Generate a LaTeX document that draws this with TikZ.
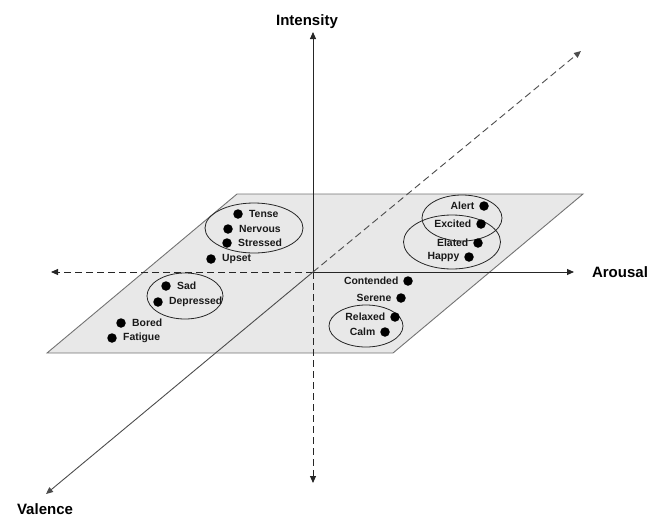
\documentclass[tikz,border=0pt]{standalone}
\usepackage{fontspec}
\setmainfont{Liberation Sans}
\usetikzlibrary{arrows.meta,shapes.geometric}
\begin{document}
\begin{tikzpicture}[x=1pt,y=-1pt,
 axis/.style={line width=0.9pt,draw=black!85,-{Triangle[length=7pt,width=6pt]}},
 dashaxis/.style={axis,dash pattern=on 7pt off 4pt},
 dot/.style={circle,fill=black,inner sep=0pt,minimum size=9.5pt},
 lbl/.style={font=\fontsize{10.4}{12}\selectfont\bfseries,inner sep=0pt,text=black!90},
 axlbl/.style={font=\fontsize{15}{18}\selectfont\bfseries,inner sep=0pt},
 grp/.style={ellipse,draw=black!85,line width=0.8pt,inner sep=0pt}]
\useasboundingbox (0,0) rectangle (651,517);
% plane
\draw[fill=black!9,draw=black!55,line width=0.9pt] (237,194) -- (583,194) -- (393,353) -- (47,353) -- cycle;
% axes
\coordinate (o) at (313,272);
\coordinate (up) at (313,32);
\coordinate (down) at (313,483);
\coordinate (right) at (574,272);
\coordinate (left) at (51,272);
\coordinate (front) at (46,494);
\coordinate (back) at (581,51);
\draw[axis] (o) -- (up);
\draw[dashaxis] (o) -- (down);
\draw[axis] (o) -- (right);
\draw[dashaxis] (o) -- (left);
\draw[axis,draw=black!70] (o) -- (front);
\draw[dashaxis,draw=black!70] (o) -- (back);
\node[axlbl] (lint) at (307,22) {Intensity};
\node[axlbl] (laro) at (620,272) {Arousal};
\node[axlbl] (lval) at (45,509) {Valence};
% group ellipses
\node[grp,minimum width=98pt,minimum height=50pt] (e1) at (254,228) {};
\node[grp,minimum width=80pt,minimum height=46pt] (e2) at (462,218) {};
\node[grp,minimum width=97pt,minimum height=54pt] (e3) at (452,242) {};
\node[grp,minimum width=76pt,minimum height=46pt] (e4) at (185,296) {};
\node[grp,minimum width=74pt,minimum height=42pt] (e5) at (366,326) {};
% left cluster (labels right of dots)
\foreach \n/\x/\y/\t in {tense/238/214/Tense, nervous/228/229/Nervous, stressed/227/243/Stressed, upset/211/259/Upset, sad/166/286/Sad, depressed/158/302/Depressed, bored/121/323/Bored, fatigue/112/338/Fatigue}{
  \node[dot] (d\n) at (\x,\y) {};
  \node[lbl,anchor=west] (l\n) at ([xshift=6pt]d\n.east) {\t};
}
% right cluster (labels left of dots)
\foreach \n/\x/\y/\t in {alert/484/206/Alert, excited/481/224/Excited, elated/478/243/Elated, happy/469/257/Happy, contended/408/281/Contended, serene/401/298/Serene, relaxed/395/317/Relaxed, calm/385/332/Calm}{
  \node[dot] (d\n) at (\x,\y) {};
  \node[lbl,anchor=east] (l\n) at ([xshift=-4.5pt]d\n.west) {\t};
}
\end{tikzpicture}
\end{document}
